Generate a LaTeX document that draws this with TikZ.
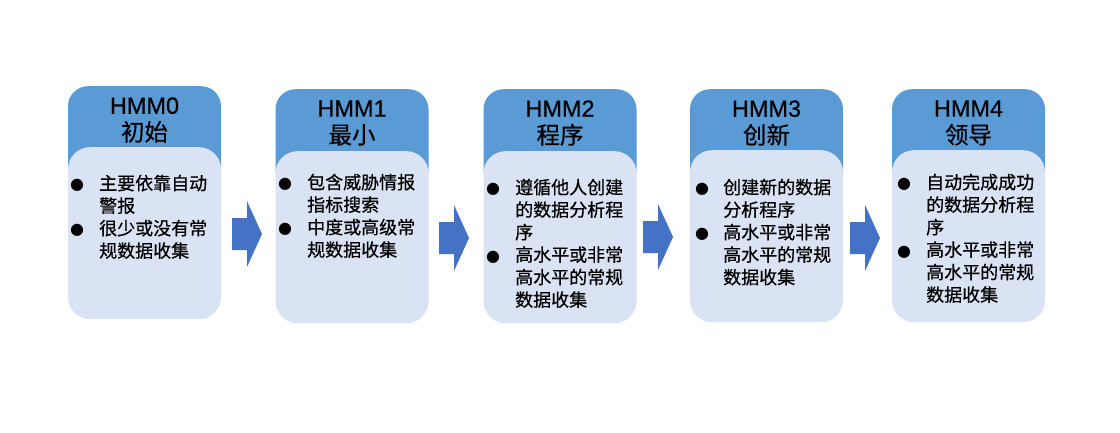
\documentclass[tikz,border=0pt]{standalone}
\usepackage{fontspec}
\setmainfont{Liberation Sans}[FakeBold=0.5]
\newfontfamily\cjk{Noto Sans CJK SC}[FakeBold=0.5]
\newfontfamily\symfont{DejaVu Sans}
\usepackage{xcolor}
\usetikzlibrary{positioning}
\definecolor{hdrblue}{HTML}{5B9BD5}
\definecolor{bodyblue}{HTML}{DAE3F3}
\definecolor{arrblue}{HTML}{4472C4}
\tikzstyle{hdr}=[shape=rectangle,rounded corners=20pt,fill=hdrblue,minimum width=153pt,minimum height=100pt,inner sep=0pt,anchor=north]
\tikzstyle{bdy}=[shape=rectangle,rounded corners=22pt,fill=bodyblue,minimum width=153pt,minimum height=172pt,inner sep=0pt,anchor=north]
\tikzstyle{ttl}=[inner sep=0pt,align=center,font=\fontsize{23.5}{27}\selectfont]
\tikzstyle{txt}=[inner sep=0pt,anchor=north west,font=\cjk\fontsize{18}{22.5}\selectfont]
\newcommand{\bul}{{\symfont\fontsize{16}{16}\selectfont ●}}
% block arrow, tip at (#1,#2)
\newcommand{\stagearrow}[2]{\fill[arrblue] (#1,#2) -- ++(-15,-33) -- ++(0,17) -- ++(-15,0) -- ++(0,32) -- ++(15,0) -- ++(0,17) -- cycle;}

\begin{document}
\begin{tikzpicture}[x=1pt,y=-1pt]
	\fill[white] (0,0) rectangle (1120,432);
	\useasboundingbox (0,0) rectangle (1120,432);
	% headers
	\node [style=hdr] (h0) at (144.5, 86) {};
	\node [style=hdr] (h1) at (352, 89) {};
	\node [style=hdr] (h2) at (560, 89) {};
	\node [style=hdr] (h3) at (766.5, 89) {};
	\node [style=hdr] (h4) at (968.5, 89) {};
	\node [style=ttl] (t0) at (144.5, 120) {HMM0\\{\cjk 初始}};
	\node [style=ttl] (t1) at (352, 123) {HMM1\\{\cjk 最小}};
	\node [style=ttl] (t2) at (560, 123) {HMM2\\{\cjk 程序}};
	\node [style=ttl] (t3) at (766.5, 123) {HMM3\\{\cjk 创新}};
	\node [style=ttl] (t4) at (968.5, 123) {HMM4\\{\cjk 领导}};
	% bodies
	\node [style=bdy] (b0) at (144.5, 147) {};
	\node [style=bdy] (b1) at (352, 151) {};
	\node [style=bdy] (b2) at (560, 151) {};
	\node [style=bdy] (b3) at (766.5, 150) {};
	\node [style=bdy] (b4) at (968.5, 150) {};
	\node [style=txt] (x0) at (70, 174) {\begin{tabular}{@{}p{29pt}@{}l@{}}
		\bul & 主要依靠自动\\ & 警报\\ \bul & 很少或没有常\\ & 规数据收集\end{tabular}};
	\node [style=txt] (x1) at (278, 173) {\begin{tabular}{@{}p{29pt}@{}l@{}}
		\bul & 包含威胁情报\\ & 指标搜索\\ \bul & 中度或高级常\\ & 规数据收集\end{tabular}};
	\node [style=txt] (x2) at (486, 178) {\begin{tabular}{@{}p{29pt}@{}l@{}}
		\bul & 遵循他人创建\\ & 的数据分析程\\ & 序\\ \bul & 高水平或非常\\ & 高水平的常规\\ & 数据收集\end{tabular}};
	\node [style=txt] (x3) at (695, 178) {\begin{tabular}{@{}p{28pt}@{}l@{}}
		\bul & 创建新的数据\\ & 分析程序\\ \bul & 高水平或非常\\ & 高水平的常规\\ & 数据收集\end{tabular}};
	\node [style=txt] (x4) at (897, 173) {\begin{tabular}{@{}p{29pt}@{}l@{}}
		\bul & 自动完成成功\\ & 的数据分析程\\ & 序\\ \bul & 高水平或非常\\ & 高水平的常规\\ & 数据收集\end{tabular}};
	% arrows
	\stagearrow{262}{234}
	\stagearrow{469}{238}
	\stagearrow{673}{237}
	\stagearrow{880}{238}
\end{tikzpicture}
\end{document}
